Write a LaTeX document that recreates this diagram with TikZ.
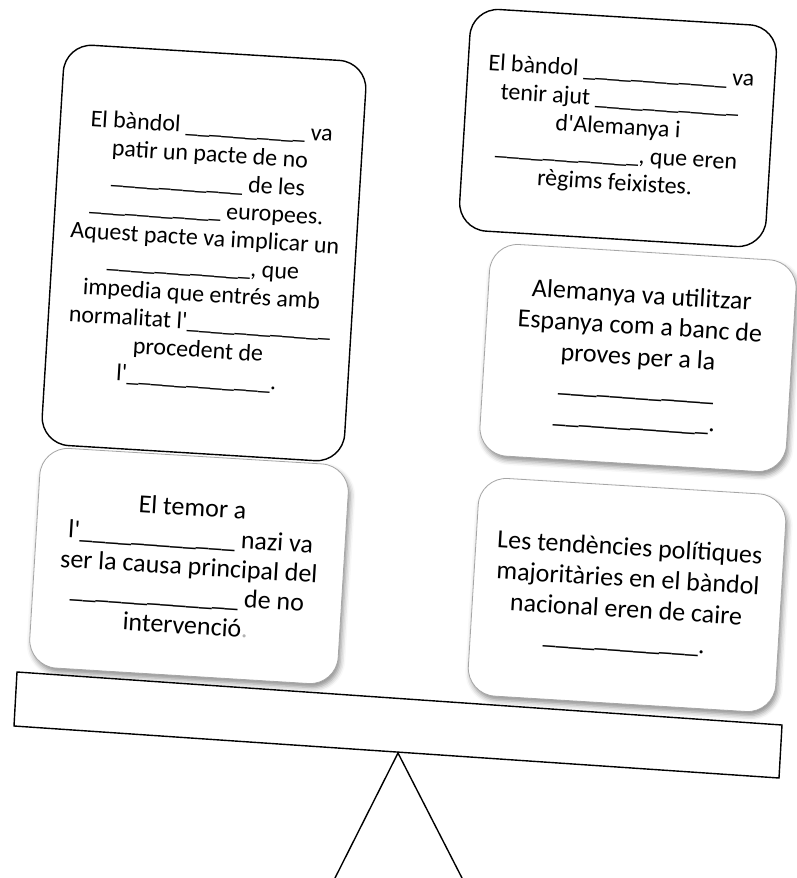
\documentclass[tikz,border=0pt]{standalone}
\usepackage{fontspec}
\setmainfont{Carlito}
\usetikzlibrary{shadows.blur}

\newcommand{\fillin}[1]{\foreach \n in {1,...,#1}{\_}}
\newcommand{\apost}{\textquotesingle}

\tikzset{
  card/.style={rounded corners=28pt, fill=white, inner sep=0pt,
               align=center, rotate=-3.5},
  plaincard/.style={card, draw=black, line width=1.4pt},
  shadowcard/.style={card, draw=gray!70, line width=0.8pt,
                     blur shadow={shadow xshift=2pt, shadow yshift=-4pt,
                                  shadow blur radius=5pt, shadow opacity=45}},
  smalltext/.style={font=\fontsize{24}{28}\selectfont},
  bigtext/.style={font=\fontsize{26}{31}\selectfont},
  beam/.style={draw=black, fill=white, line width=1.4pt},
}

\begin{document}
\begin{tikzpicture}[x=1pt, y=-1pt]
            \useasboundingbox (0,0) rectangle (796,878);

            % cards with a shadow
            \node[shadowcard, bigtext, minimum width=307pt, minimum height=212pt]
                (proves) at (638,358)
                {Alemanya va utilitzar\\
                 Espanya com a banc de\\
                 proves per a la\\
                 \fillin{12}\\
                 \fillin{12}.};
            \node[shadowcard, bigtext, minimum width=309pt, minimum height=220pt,
                  font=\fontsize{26}{29.5}\selectfont]
                (temor) at (189,566)
                {El temor a\\
                 l\apost\fillin{12} nazi va\\
                 ser la causa principal del\\
                 \fillin{13} de no\\
                 intervenció{\color{gray!60}.}};
            \node[shadowcard, bigtext, minimum width=308pt, minimum height=218pt]
                (caire) at (627,595)
                {Les tendències polítiques\\
                 majoritàries en el bàndol\\
                 nacional eren de caire\\
                 \fillin{12}.};

            % cards with a black border
            \node[plaincard, smalltext, minimum width=303pt, minimum height=401pt]
                (pacte) at (204,253)
                {El bàndol \fillin{10} va\\
                 patir un pacte de no\\
                 \fillin{11} de les\\
                 \fillin{11} europees.\\
                 Aquest pacte va implicar un\\
                 \fillin{12}, que\\
                 impedia que entrés amb\\
                 normalitat l\apost\fillin{12}\\
                 procedent de\\
                 l\apost\fillin{12}.};
            \node[plaincard, smalltext, minimum width=307pt, minimum height=222pt]
                (ajut) at (618,128)
                {El bàndol \fillin{12} va\\
                 tenir ajut \fillin{12}\\
                 d\apost Alemanya i\\
                 \fillin{12}, que eren\\
                 règims feixistes.};

            % the seesaw
            \draw[beam] (17,672) -- (782,725) -- (779,778) -- (14,726) -- cycle;
            \coordinate (pivot) at (398,753);
            \draw[line width=1.4pt] (335,878) -- (pivot) -- (462,878);
        \end{tikzpicture}
\end{document}
